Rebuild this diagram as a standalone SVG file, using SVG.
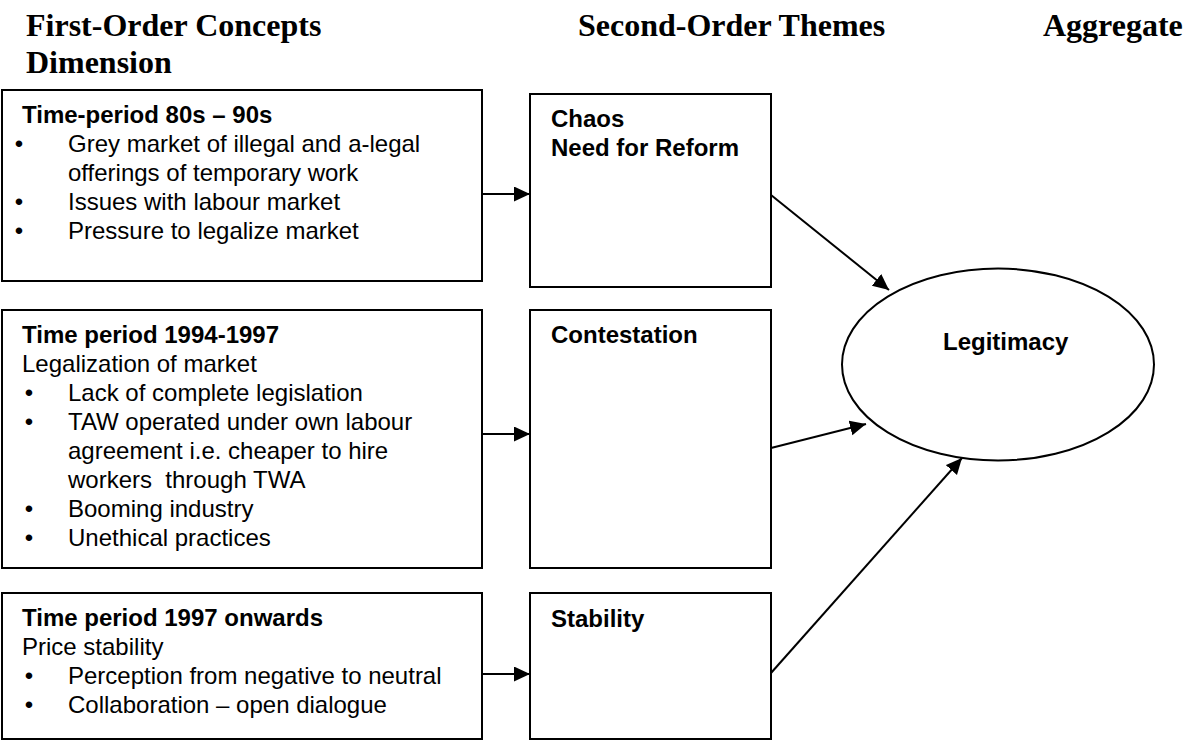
<svg xmlns="http://www.w3.org/2000/svg" width="1191" height="742" viewBox="0 0 1191 742">
<style>
.title{font-family:"Liberation Serif","Times New Roman",serif;font-weight:bold;font-size:32px;fill:#000}
.b{font-family:"Liberation Sans",Arial,sans-serif;font-weight:bold;font-size:24px;fill:#000}
.t{font-family:"Liberation Sans",Arial,sans-serif;font-size:24px;fill:#000}
.box{fill:#fff;stroke:#000;stroke-width:2}
.conn{stroke:#000;stroke-width:2;fill:none}
</style>
<defs>
<marker id="ah" markerUnits="userSpaceOnUse" markerWidth="17" markerHeight="16" refX="16" refY="7.5" orient="auto">
<path d="M0,0 L16,7.5 L0,15 z" fill="#000"/>
</marker>
</defs>
<rect width="1191" height="742" fill="#fff"/>
<g id="headers">
<text class="title" x="26" y="36">First-Order Concepts</text>
<text class="title" x="26" y="73">Dimension</text>
<text class="title" x="578" y="36">Second-Order Themes</text>
<text class="title" x="1043" y="36">Aggregate</text>
</g>
<g id="box1">
<rect class="box" x="2" y="90" width="480" height="191"/>
<text class="b" x="22" y="123">Time-period 80s – 90s</text>
<text class="t" x="19" y="152" text-anchor="middle">•</text>
<text class="t" x="68" y="152">Grey market of illegal and a-legal</text>
<text class="t" x="68" y="181">offerings of temporary work</text>
<text class="t" x="19" y="210" text-anchor="middle">•</text>
<text class="t" x="68" y="210">Issues with labour market</text>
<text class="t" x="19" y="239" text-anchor="middle">•</text>
<text class="t" x="68" y="239">Pressure to legalize market</text>
</g>
<g id="box2">
<rect class="box" x="2" y="310" width="480" height="258"/>
<text class="b" x="22" y="343">Time period 1994-1997</text>
<text class="t" x="22" y="372">Legalization of market</text>
<text class="t" x="29" y="401" text-anchor="middle">•</text>
<text class="t" x="68" y="401">Lack of complete legislation</text>
<text class="t" x="29" y="430" text-anchor="middle">•</text>
<text class="t" x="68" y="430">TAW operated under own labour</text>
<text class="t" x="68" y="459">agreement i.e. cheaper to hire</text>
<text class="t" x="68" y="488" xml:space="preserve">workers  through TWA</text>
<text class="t" x="29" y="517" text-anchor="middle">•</text>
<text class="t" x="68" y="517">Booming industry</text>
<text class="t" x="29" y="546" text-anchor="middle">•</text>
<text class="t" x="68" y="546">Unethical practices</text>
</g>
<g id="box3">
<rect class="box" x="2" y="593" width="480" height="146"/>
<text class="b" x="22" y="626">Time period 1997 onwards</text>
<text class="t" x="22" y="655">Price stability</text>
<text class="t" x="29" y="684" text-anchor="middle">•</text>
<text class="t" x="68" y="684">Perception from negative to neutral</text>
<text class="t" x="29" y="713" text-anchor="middle">•</text>
<text class="t" x="68" y="713">Collaboration – open dialogue</text>
</g>
<g id="chaos">
<rect class="box" x="530" y="94" width="241" height="193"/>
<text class="b" x="551" y="127">Chaos</text>
<text class="b" x="551" y="156">Need for Reform</text>
</g>
<g id="contestation">
<rect class="box" x="530" y="310" width="241" height="258"/>
<text class="b" x="551" y="343">Contestation</text>
</g>
<g id="stability">
<rect class="box" x="530" y="593" width="241" height="146"/>
<text class="b" x="551" y="627">Stability</text>
</g>
<g id="legitimacy">
<ellipse cx="998" cy="364.5" rx="156" ry="96" fill="#fff" stroke="#000" stroke-width="2"/>
<text class="b" x="943" y="350">Legitimacy</text>
</g>
<g id="connectors">
<line class="conn" x1="482" y1="194" x2="530" y2="194" marker-end="url(#ah)"/>
<line class="conn" x1="482" y1="434" x2="530" y2="434" marker-end="url(#ah)"/>
<line class="conn" x1="482" y1="674" x2="530" y2="674" marker-end="url(#ah)"/>
<line class="conn" x1="771" y1="195" x2="889" y2="290" marker-end="url(#ah)"/>
<line class="conn" x1="771" y1="448" x2="866" y2="424" marker-end="url(#ah)"/>
<line class="conn" x1="771" y1="673" x2="962" y2="458" marker-end="url(#ah)"/>
</g>
</svg>
